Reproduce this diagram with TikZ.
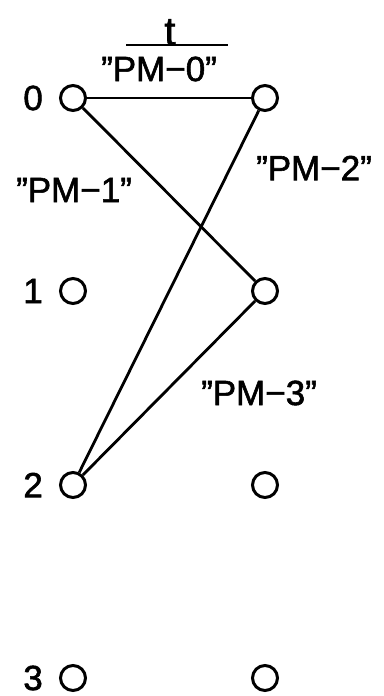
\documentclass[tikz,border=0pt]{standalone}
\usepackage{fontspec}
\setmainfont{Liberation Sans}[FakeBold=1.6]
\usetikzlibrary{positioning}

\begin{document}
\begin{tikzpicture}[
  x=1pt, y=-1pt,
  font=\fontsize{35}{40}\selectfont,
  state/.style={circle, draw, line width=3pt, minimum size=25pt, inner sep=0pt},
  link/.style={line width=2.8pt},
  pmlabel/.style={inner sep=0pt},
  every label/.style={inner sep=0pt},
  label distance=16pt
]
\useasboundingbox (0,0) rectangle (383,696);

\foreach \r/\y in {0/98,1/291,2/485,3/678} {
  \node[state, label=left:\r] (L\r) at (73,\y) {};
  \node[state] (R\r) at (265,\y) {};
}

\node[inner sep=0pt, minimum width=101pt, anchor=base, font=\fontsize{40}{44}\selectfont] (tlab) at (177,45) {t\hspace*{14pt}};
\draw[line width=2.6pt] (tlab.base west) -- (tlab.base east);

\node[pmlabel] (pm0) at (159,69) {”PM−0”};
\node[pmlabel] (pm1) at (74,190) {”PM−1”};
\node[pmlabel] (pm2) at (314,168) {”PM−2”};
\node[pmlabel] (pm3) at (259,393) {”PM−3”};

\draw[link] (L0) -- (R0);
\draw[link] (L0) -- (R1);
\draw[link] (L2) -- (R0);
\draw[link] (L2) -- (R1);

\end{tikzpicture}
\end{document}
